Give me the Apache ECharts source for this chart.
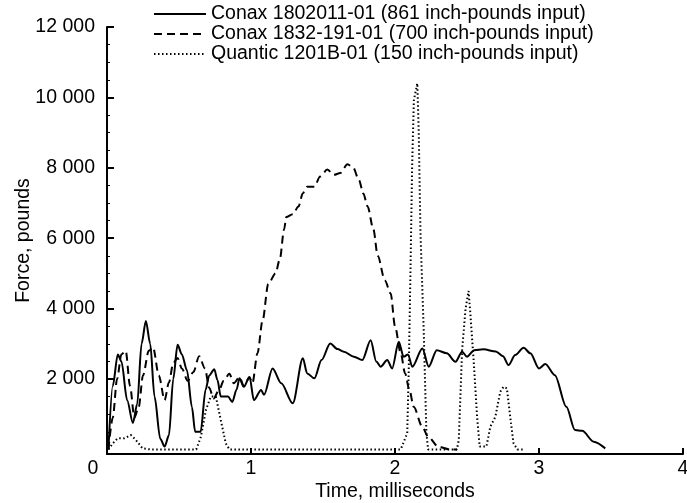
<!DOCTYPE html>
<html>
<head>
<meta charset="utf-8">
<script src="https://cdn.jsdelivr.net/npm/echarts@6/dist/echarts.min.js"></script>
<style>
html,body{margin:0;padding:0;background:#fff;}
#chart{width:687px;height:503px;}
</style>
</head>
<body>
<div id="chart"></div>
<script>
// ---- Data (time in milliseconds, force in pounds) ----
const seriesNames = [
  'Conax 1802011-01 (861 inch-pounds input)',
  'Conax 1832-191-01 (700 inch-pounds input)',
  'Quantic 1201B-01 (150 inch-pounds input)'
];

const conax1802Time = [0.01,0.04,0.075,0.1,0.14,0.18,0.21,0.24,0.27,0.3,0.33,0.37,0.4,0.43,0.46,0.49,0.52,0.555,0.59,0.612,0.65,0.685,0.71,0.745,0.767,0.79,0.84,0.87,0.9,0.92,0.95,0.99,1.02,1.07,1.09,1.15,1.21,1.29,1.36,1.39,1.44,1.49,1.55,1.6,1.645,1.715,1.773,1.831,1.87,1.9,1.946,1.98,2.026,2.06,2.09,2.12,2.19,2.234,2.29,2.36,2.42,2.466,2.5,2.55,2.615,2.7,2.75,2.788,2.835,2.893,2.94,3.0,3.044,3.11,3.19,3.25,3.3,3.38,3.46];
const conax1802Force = [0,1800,2700,2500,1400,750,1300,3000,3650,3000,1500,300,80,400,2000,2970,2700,2250,1200,500,500,1700,2100,2280,1970,1500,1500,1350,1700,2020,1780,2060,1400,1690,1550,2300,1880,1310,2590,2160,2020,2540,3010,2850,2775,2633,2540,3100,2500,2350,2540,2300,3060,2630,2700,2350,2870,2350,2820,2730,2490,2775,2633,2820,2843,2780,2650,2397,2680,2890,2730,2300,2425,2110,1210,550,530,220,30];

const conax1832Time = [0.01,0.04,0.07,0.1,0.13,0.16,0.19,0.22,0.25,0.29,0.32,0.36,0.4,0.43,0.46,0.49,0.52,0.56,0.6,0.64,0.68,0.71,0.74,0.78,0.81,0.85,0.88,0.92,0.95,0.99,1.01,1.045,1.08,1.12,1.17,1.2,1.23,1.245,1.29,1.33,1.36,1.39,1.44,1.48,1.53,1.575,1.62,1.67,1.71,1.75,1.78,1.81,1.85,1.88,1.93,1.97,2.0,2.04,2.07,2.1,2.13,2.19,2.23,2.3,2.38,2.43];
const conax1832Force = [0,900,2000,2700,2800,1800,900,1200,2100,2800,2900,2100,1400,1900,2450,2600,2300,1950,2200,2650,2300,1750,1450,1700,1950,2150,1880,2050,1800,2050,1880,2730,3650,4700,5000,5400,6250,6600,6680,6900,7280,7460,7460,7750,7950,7800,7850,8100,8000,7650,7270,6900,6250,5500,4800,4430,3500,2730,2160,1690,1210,640,360,80,0,0];

const quanticTime = [0.01,0.04,0.074,0.12,0.166,0.2,0.247,0.3,0.62,0.652,0.687,0.72,0.756,0.79,0.825,0.85,2.04,2.085,2.096,2.108,2.119,2.131,2.155,2.165,2.177,2.2,2.218,2.23,2.43,2.443,2.466,2.49,2.511,2.523,2.546,2.57,2.588,2.635,2.662,2.697,2.731,2.754,2.777,2.8,2.823,2.85,2.9];
const quanticForce = [0,170,315,315,410,270,30,0,0,360,1120,1500,1500,835,173,0,0,460,2350,5190,8030,9920,10400,9000,6140,3300,460,0,0,270,2820,4000,4500,3870,2540,930,80,80,645,930,1640,1780,1735,930,173,0,0];

const xTickLabels = [0,1,2,3,4];
const yTickLabels = [0,2000,4000,6000,8000,10000,12000];
const yMinorTicks = [500,1000,1500,2500,3000,3500,4500,5000,5500,6500,7000,7500,8500,9000,9500,10500,11000,11500];

function zip(xs, ys){ return xs.map((x,i)=>[x, ys[i]]); }
function fmtThousands(v){
  if (v === 0) return '';
  const s = String(v);
  return s.length > 3 ? s.slice(0, s.length-3) + ' ' + s.slice(-3) : s;
}

const FONT = 'Liberation Sans, Arial, Helvetica, sans-serif';
const FS = 19.5;
const chart = echarts.init(document.getElementById('chart'), null, {renderer:'canvas'});

const option = {
  backgroundColor: '#ffffff',
  animation: false,
  textStyle: {fontFamily: FONT, color:'#000'},
  grid: {left:107, right:4, top:27, bottom:49, containLabel:false, outerBoundsMode:'none'},
  legend: {
    orient: 'vertical',
    left: 153,
    top: 4,
    padding: 0,
    itemGap: 0,
    itemWidth: 52,
    itemHeight: 20,
    align: 'left',
    selectedMode: false,
    itemStyle: {opacity: 0},
    textStyle: {fontFamily: FONT, fontSize: FS, color:'#000', lineHeight: 20},
    data: seriesNames
  },
  xAxis: {
    type: 'value',
    min: 0, max: 4, interval: 1,
    name: 'Time, milliseconds',
    nameLocation: 'middle',
    nameGap: 28,
    nameMoveOverlap: false,
    nameTextStyle: {fontFamily: FONT, fontSize: FS, color:'#000'},
    axisLine: {show:true, onZero:false, lineStyle:{color:'#000', width:2}},
    axisTick: {show:true, inside:true, length:6, lineStyle:{color:'#000', width:2}, customValues:[1,2,3,4]},
    axisLabel: {
      show:true, fontFamily: FONT, fontSize: FS, color:'#000', margin: 5,
      customValues: xTickLabels,
      formatter: function(v){ return v === 0 ? '{z|0}' : String(v); },
      rich: {z: {fontFamily: FONT, fontSize: FS, color:'#000', padding:[0,28,0,0]}}
    },
    splitLine: {show:false}
  },
  yAxis: [{
    type: 'value',
    min: -130, max: 12000,
    name: 'Force, pounds',
    nameLocation: 'middle',
    nameRotate: 90,
    nameGap: 73,
    nameMoveOverlap: false,
    nameTextStyle: {fontFamily: FONT, fontSize: FS, color:'#000'},
    axisLine: {show:true, onZero:false, lineStyle:{color:'#000', width:2}},
    axisTick: {show:true, inside:true, length:7, lineStyle:{color:'#000', width:2}, customValues: yTickLabels.filter(v=>v>0)},
    axisLabel: {
      show:true, fontFamily: FONT, fontSize: FS, color:'#000', margin: 12,
      customValues: yTickLabels.filter(v=>v>0),
      formatter: fmtThousands
    },
    splitLine: {show:false}
  },{
    type: 'value',
    min: -130, max: 12000,
    position: 'left',
    axisLine: {show:false},
    axisTick: {show:true, inside:true, length:3, lineStyle:{color:'#000', width:1}, customValues: yMinorTicks},
    axisLabel: {show:false},
    splitLine: {show:false}
  }],
  series: [
    {
      name: seriesNames[0], type: 'line', data: zip(conax1802Time, conax1802Force),
      showSymbol: false, symbol: 'none', smooth: 0.3, smoothMonotone: 'x',
      lineStyle: {color:'#000', width:2, type:'solid'}, itemStyle:{color:'#000'}, z: 3
    },
    {
      name: seriesNames[1], type: 'line', data: zip(conax1832Time, conax1832Force),
      showSymbol: false, symbol: 'none', smooth: 0.3, smoothMonotone: 'x',
      lineStyle: {color:'#000', width:2, type:[8,5]}, itemStyle:{color:'#000'}, z: 3
    },
    {
      name: seriesNames[2], type: 'line', data: zip(quanticTime, quanticForce),
      showSymbol: false, symbol: 'none', smooth: false,
      lineStyle: {color:'#000', width:2, type:[1.5,2.5]}, itemStyle:{color:'#000'}, z: 3
    }
  ]
};
chart.setOption(option);
</script>
</body>
</html>
